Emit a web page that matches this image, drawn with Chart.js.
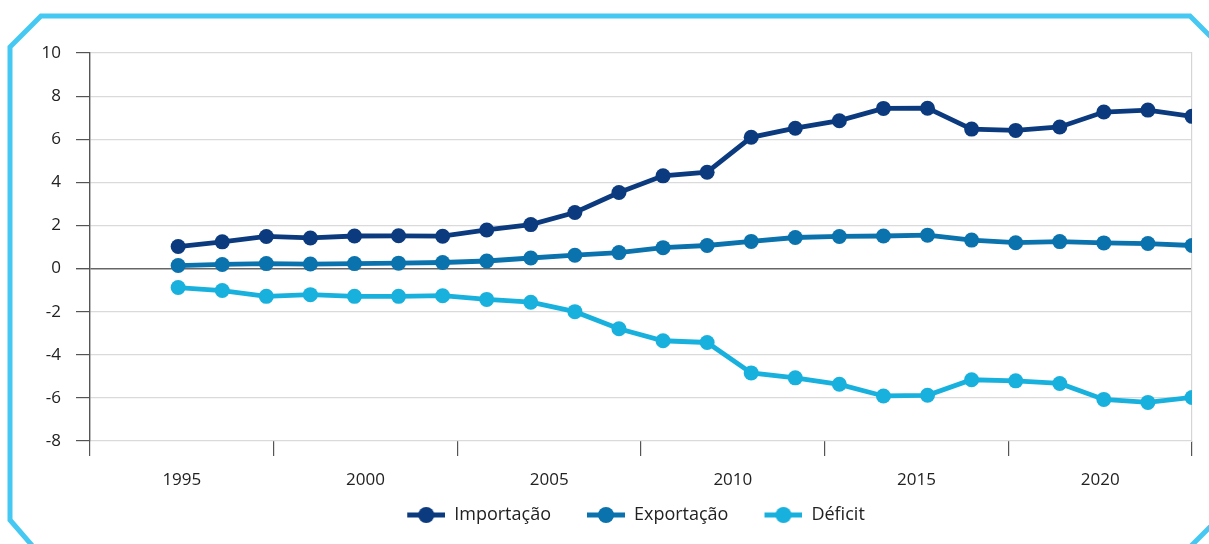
<!DOCTYPE html>
<html>
<head>
<meta charset="utf-8">
<script src="https://cdn.jsdelivr.net/npm/chart.js@4/dist/chart.umd.min.js"></script>
<style>
  html, body { margin: 0; padding: 0; background: #fff; }
  #wrap { width: 1209px; height: 544px; position: relative; }
</style>
</head>
<body>
<div id="wrap"><canvas id="c"></canvas></div>
<script>
// Axis labels (5-year groups shown under the plot)
const periodLabels = ['1995', '2000', '2005', '2010', '2015', '2020'];
// Horizontal position of each observation on the value axis
const pointPositions = [0, 1, 2, 3, 4, 5, 6, 7, 8, 9, 10, 11, 12, 13, 14, 15, 16, 17, 18, 19, 20, 21, 22, 23];
// Series values
const importacao = [1.02, 1.24, 1.49, 1.42, 1.51, 1.52, 1.50, 1.79, 2.04, 2.60, 3.53, 4.30, 4.47, 6.09, 6.51, 6.86, 7.43, 7.44, 6.47, 6.41, 6.57, 7.26, 7.35, 7.06];
const exportacao = [0.14, 0.19, 0.23, 0.21, 0.23, 0.25, 0.28, 0.35, 0.49, 0.62, 0.74, 0.97, 1.07, 1.26, 1.44, 1.49, 1.51, 1.55, 1.32, 1.20, 1.25, 1.19, 1.16, 1.07];
const deficit    = [-0.88, -1.02, -1.29, -1.21, -1.29, -1.29, -1.26, -1.43, -1.56, -2.00, -2.79, -3.35, -3.43, -4.84, -5.07, -5.37, -5.91, -5.88, -5.16, -5.21, -5.33, -6.07, -6.21, -5.98];
const yTicks = [10, 8, 6, 4, 2, 0, -2, -4, -6, -8];

const COLORS = { imp: '#0b3a7e', exp: '#0a72ad', def: '#18b1de' };
const FONT = "'Open Sans', 'Noto Sans', sans-serif";

// legend symbol: blank lead-in (spacing between entries) + line with dot
function legendMarker(color) {
  const cv = document.createElement('canvas');
  cv.width = 64; cv.height = 18;
  const g = cv.getContext('2d');
  g.strokeStyle = color; g.lineWidth = 5;
  g.beginPath(); g.moveTo(26, 9); g.lineTo(64, 9); g.stroke();
  g.fillStyle = color;
  g.beginPath(); g.arc(45, 9, 8, 0, Math.PI * 2); g.fill();
  return cv;
}

function toPoints(vals) { return vals.map((v, i) => ({ x: pointPositions[i], y: v })); }

function ds(label, vals, color) {
  return {
    label, data: toPoints(vals), xAxisID: 'xv', yAxisID: 'y',
    borderColor: color, backgroundColor: color, borderWidth: 4.8,
    pointRadius: 7.5, pointHoverRadius: 7.5, pointBorderWidth: 0,
    pointBackgroundColor: color, pointStyle: 'circle', tension: 0, clip: 0
  };
}

const framePlugin = {
  id: 'frame',
  afterLayout(chart) {
    if (chart.legend) { chart.legend.left -= 18; chart.legend.right -= 18; }
  },
  beforeDraw(chart) {
    const g = chart.ctx;
    g.save();
    g.strokeStyle = '#45c8f2';
    g.lineWidth = 5;
    g.lineJoin = 'miter';
    g.beginPath();
    g.moveTo(10, 520);
    g.lineTo(10, 47);
    g.lineTo(41, 16);
    g.lineTo(1190, 16);
    g.lineTo(1220, 46);
    g.lineTo(1220, 517);
    g.lineTo(1187, 550);
    g.lineTo(36, 550);
    g.closePath();
    g.stroke();
    g.restore();
  }
};

new Chart(document.getElementById('c'), {
  type: 'line',
  data: {
    labels: periodLabels,
    datasets: [
      ds('Importação', importacao, COLORS.imp),
      ds('Exportação', exportacao, COLORS.exp),
      ds('Déficit', deficit, COLORS.def)
    ]
  },
  options: {
    responsive: true,
    maintainAspectRatio: false,
    animation: false,
    events: [],
    layout: { padding: { top: 53, left: 0, right: 17, bottom: 10 } },
    plugins: {
      tooltip: { enabled: false },
      legend: {
        position: 'bottom',
        fullSize: false,
        labels: {
          usePointStyle: true,
          pointStyleWidth: 64,
          boxHeight: 18,
          padding: 10,
          color: '#222',
          font: { family: FONT, size: 18 },
          generateLabels(chart) {
            return chart.data.datasets.map((d, i) => ({
              text: d.label, fillStyle: d.borderColor, strokeStyle: d.borderColor,
              lineWidth: 0, hidden: false, datasetIndex: i, fontColor: '#222',
              pointStyle: legendMarker(d.borderColor)
            }));
          }
        }
      }
    },
    scales: {
      x: {
        type: 'category',
        labels: periodLabels,
        offset: true,
        afterFit: (s) => { s.height = 55; },
        grid: { offset: true, drawOnChartArea: false, tickLength: 15, tickColor: '#555', lineWidth: 1.2 },
        border: { display: false },
        ticks: { color: '#222', font: { family: FONT, size: 17 }, padding: 14, maxRotation: 0 }
      },
      xv: {
        type: 'linear', display: false, min: -2, max: 23
      },
      y: {
        type: 'linear', position: 'left', min: -8, max: 10,
        afterBuildTicks: (s) => { s.ticks = yTicks.map(v => ({ value: v })); },
        afterFit: (s) => { s.width = 90; },
        grid: {
          color: (ctx) => (ctx.tick && ctx.tick.value === 0) ? '#666' : '#dadada',
          lineWidth: (ctx) => (ctx.tick && ctx.tick.value === 0) ? 1.4 : 1.2,
          tickLength: 14, tickColor: '#555'
        },
        border: { display: true, color: '#555', width: 1.4 },
        ticks: { color: '#222', font: { family: FONT, size: 17 }, padding: 15 }
      },
      yr: {
        type: 'linear', position: 'right', min: -8, max: 10,
        grid: { display: false, drawTicks: false },
        ticks: { display: false },
        afterFit: (s) => { s.width = 0; },
        border: { display: true, color: '#d5d5d5', width: 1.2 }
      }
    }
  },
  plugins: [framePlugin]
});
</script>
</body>
</html>
